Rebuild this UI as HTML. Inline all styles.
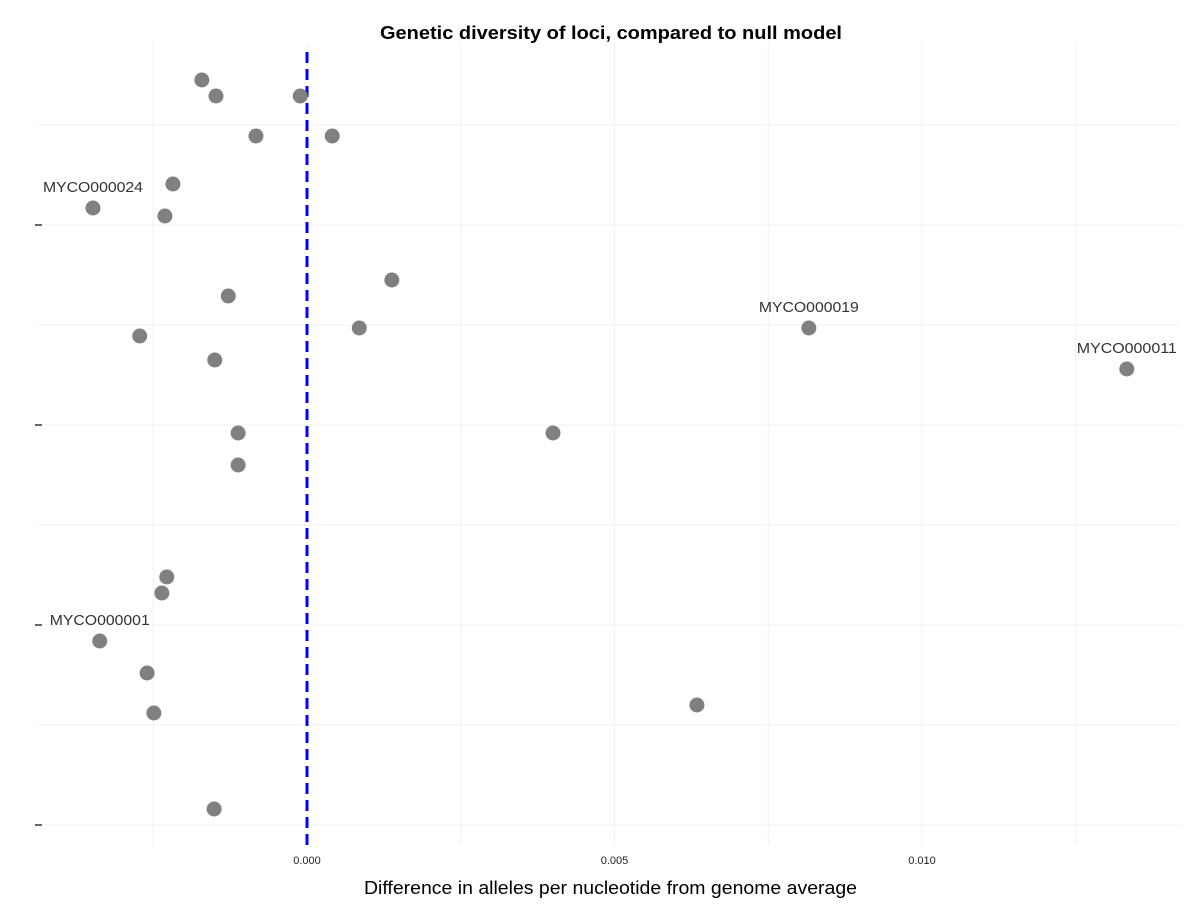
<!DOCTYPE html>
<html><head><meta charset="utf-8"><style>
body{margin:0;background:#fff;font-family:"Liberation Sans",sans-serif}
</style></head><body>
<svg id="chart" width="1200" height="900" xmlns="http://www.w3.org/2000/svg">
<text x="380" y="39" textLength="462" lengthAdjust="spacingAndGlyphs" font-size="18" font-weight="bold" fill="#000">Genetic diversity of loci, compared to null model</text>
<text x="364" y="894" textLength="493" lengthAdjust="spacingAndGlyphs" font-size="18" fill="#000">Difference in alleles per nucleotide from genome average</text>
<g id="grid"></g><g id="ticks"></g><g id="marks"></g>
</svg>
<script>
const xs = [-0.00171,-0.00148,-0.00011,-0.00083,0.00041,-0.00218,-0.00348,-0.00231,0.00138,-0.00128,0.00085,0.00816,-0.00272,-0.0015,0.01333,-0.00112,0.004,-0.00112,-0.00228,-0.00236,-0.00337,-0.0026,0.00634,-0.00249,-0.00151];
const ys = [3.725,3.645,3.645,3.445,3.445,3.205,3.085,3.045,2.725,2.645,2.485,2.485,2.445,2.325,2.28,1.96,1.96,1.8,1.24,1.16,0.92,0.76,0.6,0.56,0.08];
const labels = ["","","","","","","MYCO000024","","","","","MYCO000019","","","MYCO000011","","","","","","MYCO000001","","","",""];
const xTicks = [0,0.005,0.01];
const xTickLabels = ["0.000","0.005","0.010"];
const xMinor = [-0.0025,0.0025,0.0075,0.0125];
const yTicks = [0,1,2,3];
const yMinor = [0.5,1.5,2.5,3.5];
const refLine = 0;
const X = v => 307 + v*61500;
const Y = v => 825 - v*200;
const NS="http://www.w3.org/2000/svg";
function mk(parent,tag,attrs){const e=document.createElementNS(NS,tag);for(const k in attrs)e.setAttribute(k,attrs[k]);document.getElementById(parent).appendChild(e);return e;}
yTicks.concat(yMinor).forEach(v=>{const e=mk('grid','line',{x1:38,x2:1180,y1:Y(v),y2:Y(v),stroke:'#f0f0f0','stroke-width':1});

});
xTicks.concat(xMinor).forEach(v=>{const e=mk('grid','line',{x1:X(v),x2:X(v),y1:42,y2:845,stroke:'#f0f0f0','stroke-width':1});

});
yTicks.forEach(v=>{const e=mk('ticks','line',{x1:35,x2:42,y1:Y(v),y2:Y(v),stroke:'#000','stroke-width':1.2});

});
xTicks.forEach((v,i)=>{const t=mk('ticks','text',{x:X(v),y:864,'text-anchor':'middle','font-size':11,fill:'#222'});t.textContent=xTickLabels[i];

});
const rl=mk('marks','line',{x1:X(refLine),x2:X(refLine),y1:52,y2:848,stroke:'#0000ff','stroke-width':3,'stroke-dasharray':'11,6'});


xs.forEach((v,i)=>{const c=mk('marks','circle',{cx:X(v),cy:Y(ys[i]),r:7.5,fill:'#808080'});


if(labels[i]){const t=mk('marks','text',{x:X(v)-50,y:Y(ys[i])-16,textLength:100,lengthAdjust:'spacingAndGlyphs','font-size':15,fill:'#333'});t.textContent=labels[i];

}});
</script>
</body></html>
